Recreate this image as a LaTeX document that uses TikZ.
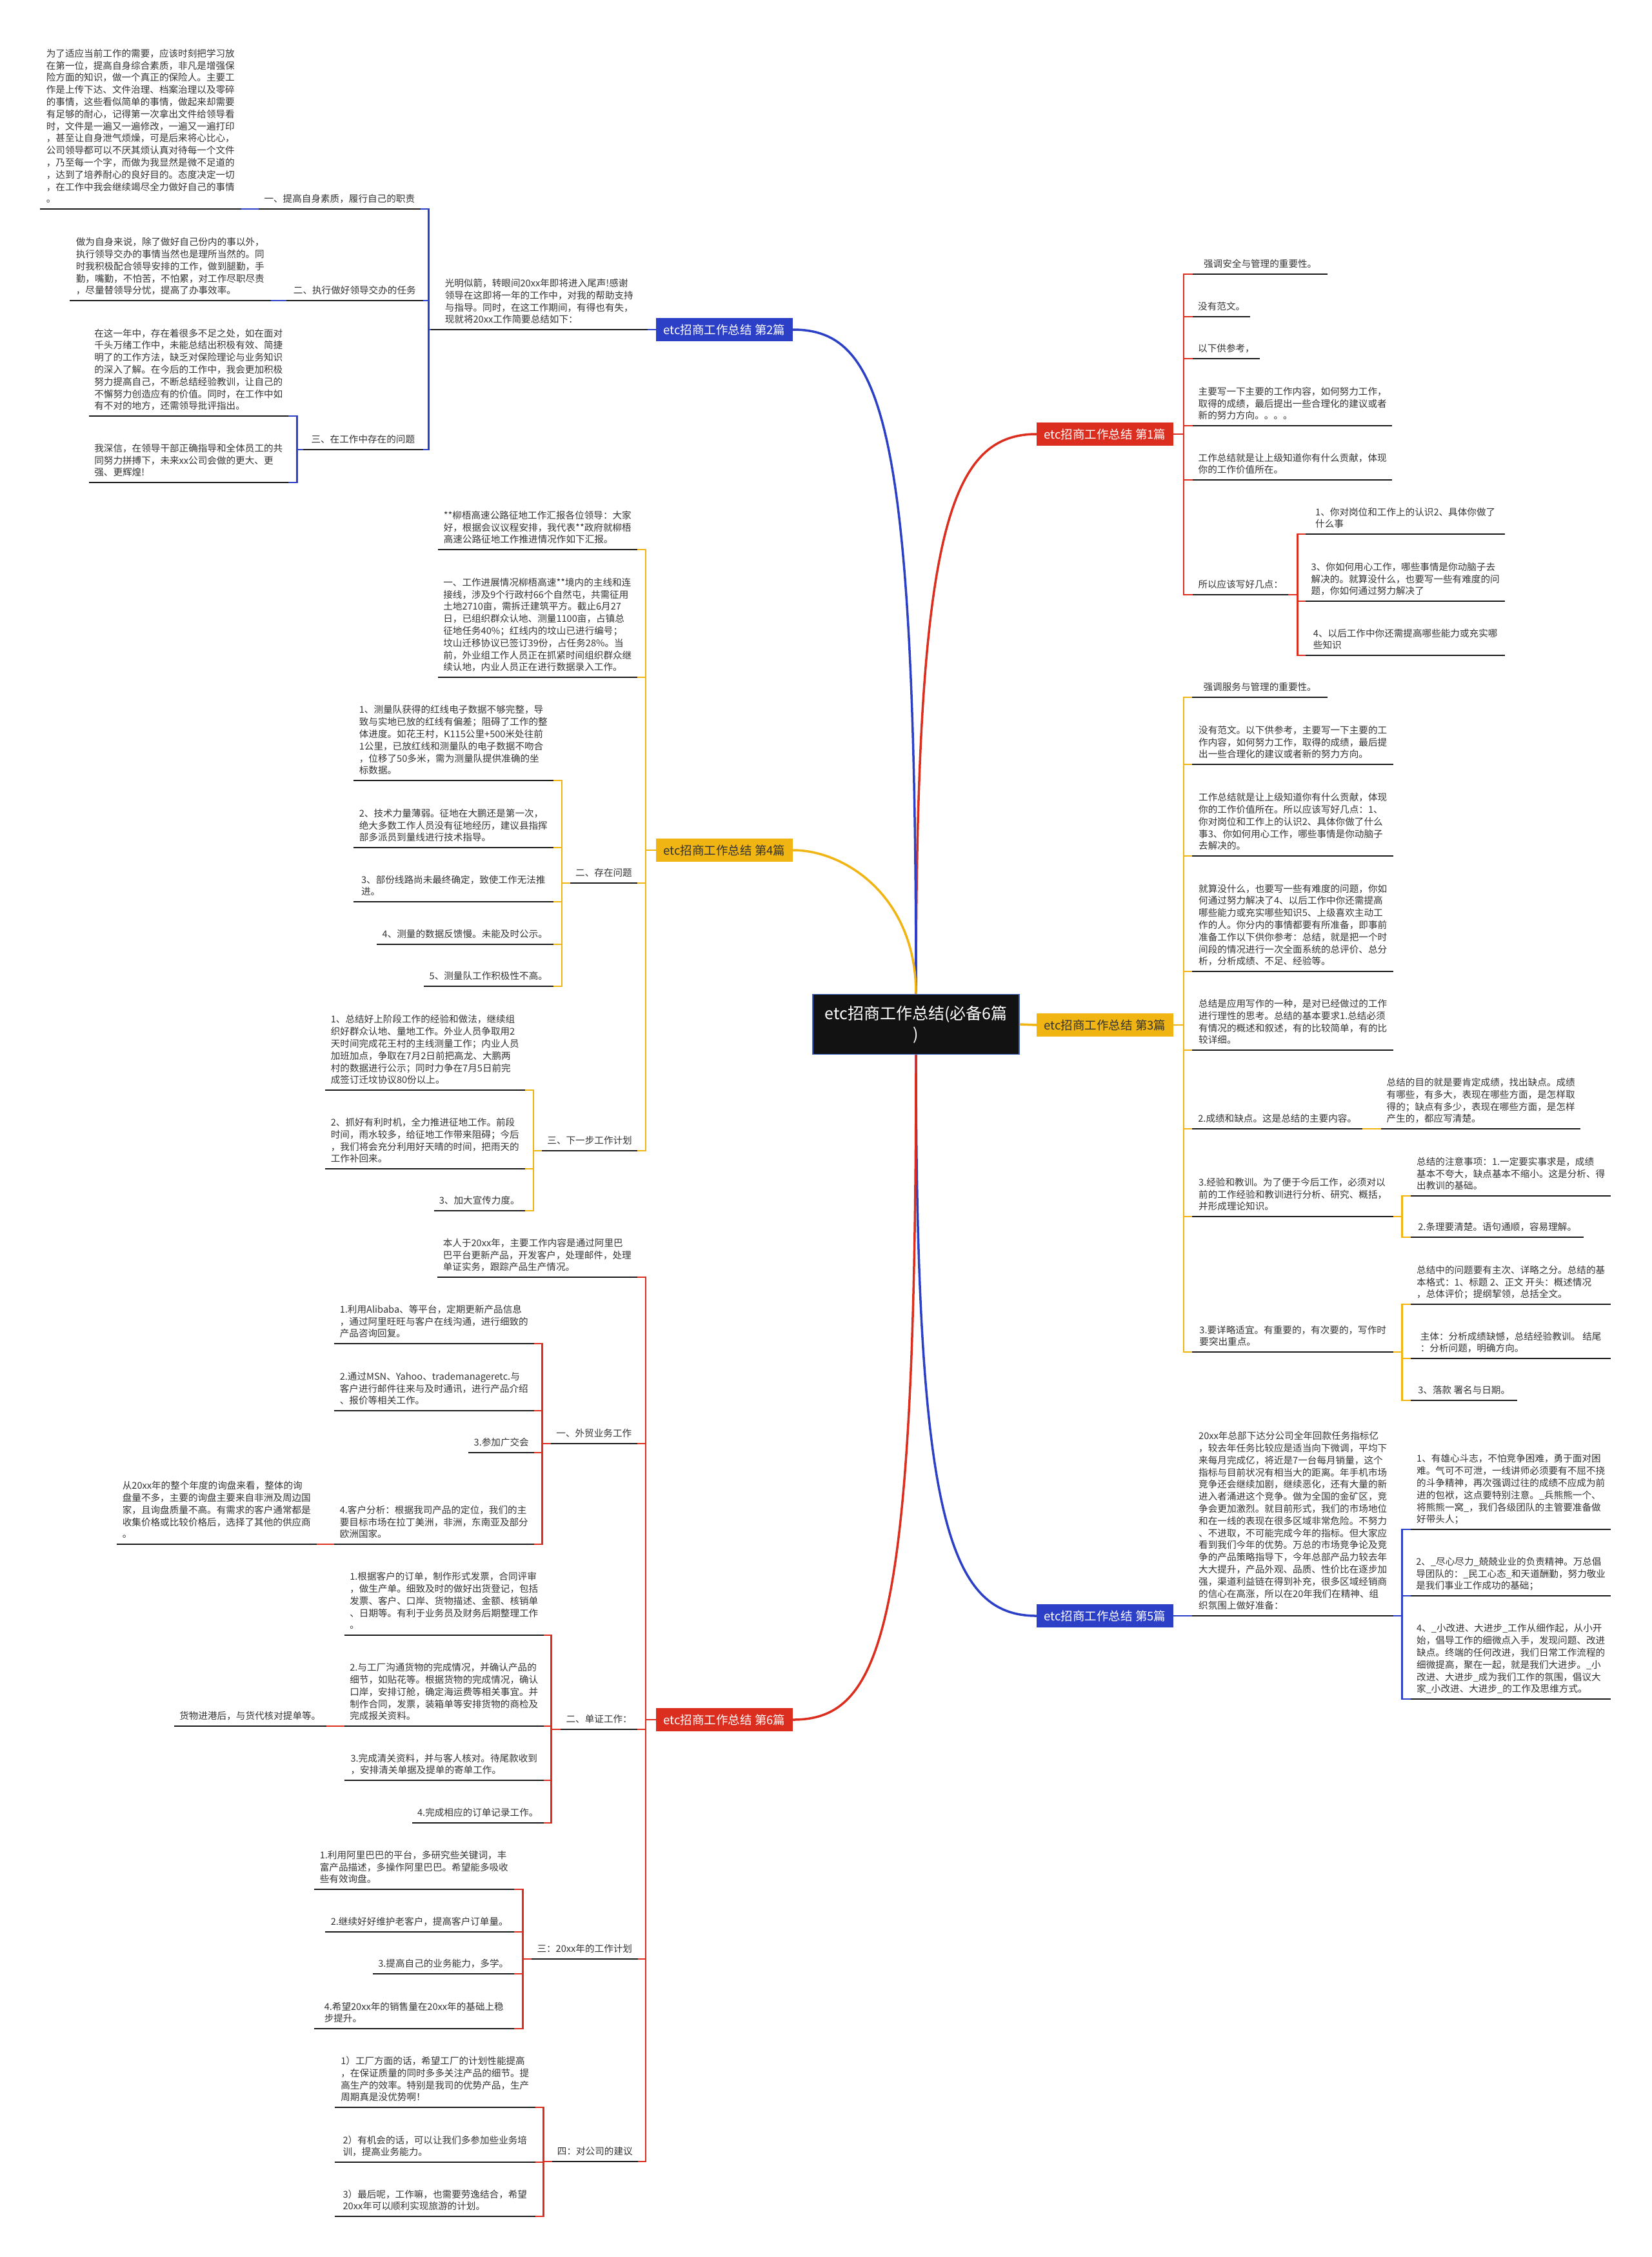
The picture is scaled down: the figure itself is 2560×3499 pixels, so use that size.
\documentclass[tikz,border=0pt]{standalone}
\usepackage{fontspec}
\setmainfont{Noto Sans CJK SC}
\definecolor{redc}{HTML}{DC2E1F}
\definecolor{bluec}{HTML}{2B3FC7}
\definecolor{yelc}{HTML}{F0B513}
\definecolor{txtc}{HTML}{333333}
\definecolor{ctrborder}{HTML}{3F62C8}
\newcommand\leaffont{\fontsize{14.6}{18.8}\selectfont}
\tikzset{
  uline/.style={draw=black!90, line width=2.5pt},
  leafR/.style={anchor=south west, align=left, inner xsep=8pt, inner ysep=8pt,
    text depth=2pt, font=\leaffont, text=txtc, minimum width=#1,
    append after command={(\tikzlastnode.south west) edge[uline] (\tikzlastnode.south east)}},
  leafL/.style={leafR=#1, anchor=south east},
  conn/.style={line width=2.5pt},
  mcurve/.style={line width=3.5pt},
  part/.style={minimum width=212pt, minimum height=36pt, inner sep=2pt,
    font=\fontsize{18.5}{22}\selectfont, text=white},
}
\begin{document}
\begin{tikzpicture}[x=1pt,y=-1pt]
\fill[white] (0,0) rectangle (2560,3499);
\useasboundingbox (0,0) rectangle (2560,3499);

% centre and parts
\node[fill=black!93, draw=ctrborder, line width=1.5pt, minimum width=320pt, minimum height=93pt,
  align=center, text=white, font=\fontsize{25}{32}\selectfont] (ctr) at (1420,1588) {etc招商工作总结(必备6篇\\)};
\node[part, fill=redc] (p1) at (1713,673) {etc招商工作总结 第1篇};
\node[part, fill=bluec] (p2) at (1123,511) {etc招商工作总结 第2篇};
\node[part, fill=yelc, text=txtc] (p3) at (1713,1589) {etc招商工作总结 第3篇};
\node[part, fill=yelc, text=txtc] (p4) at (1123,1318) {etc招商工作总结 第4篇};
\node[part, fill=bluec] (p5) at (1713,2505) {etc招商工作总结 第5篇};
\node[part, fill=redc] (p6) at (1123,2666) {etc招商工作总结 第6篇};

\draw[mcurve, redc] (ctr.north) .. controls (1420,830) and (1470,673) .. (p1.west);
\draw[mcurve, bluec] (ctr.north) .. controls (1420,660) and (1370,511) .. (p2.east);
\draw[mcurve, yelc] (ctr.east) -- (p3.west);
\draw[mcurve, yelc] (ctr.north) .. controls (1420,1390) and (1310,1318) .. (p4.east);
\draw[mcurve, bluec] (ctr.south) .. controls (1420,2350) and (1470,2505) .. (p5.west);
\draw[mcurve, redc] (ctr.south) .. controls (1420,2520) and (1370,2666) .. (p6.east);

% ---------- Part 1 ----------
\node[leafR=209] (p1a) at (1849,425) {强调安全与管理的重要性。};
\node[leafR=89] (p1b) at (1849,491) {没有范文。};
\node[leafR=103] (p1c) at (1849,556) {以下供参考，};
\node[leafR=309] (p1d) at (1849,660) {主要写一下主要的工作内容，如何努力工作，\\取得的成绩，最后提出一些合理化的建议或者\\新的努力方向。。。。};
\node[leafR=309] (p1e) at (1849,744) {工作总结就是让上级知道你有什么贡献，体现\\你的工作价值所在。};
\node[leafR=148] (p1f) at (1849,922) {所以应该写好几点：};
\node[leafR=309] (p1f1) at (2024,828) {1、你对岗位和工作上的认识2、具体你做了\\什么事};
\node[leafR=309] (p1f2) at (2024,932) {3、你如何用心工作，哪些事情是你动脑子去\\解决的。就算没什么，也要写一些有难度的问\\题，你如何通过努力解决了};
\node[leafR=309] (p1f3) at (2024,1016) {4、以后工作中你还需提高哪些能力或充实哪\\些知识};
\foreach \c in {p1a,p1b,p1c,p1d,p1e,p1f}
  \draw[conn, redc] (p1.east) -- ++(16,0) |- (\c.south west);
\foreach \c in {p1f1,p1f2,p1f3}
  \draw[conn, redc] (p1f.south east) -- ++(14,0) |- (\c.south west);

% ---------- Part 2 ----------
\node[leafL=336] (p2i) at (1004,511) {光明似箭，转眼间20xx年即将进入尾声!感谢\\领导在这即将一年的工作中，对我的帮助支持\\与指导。同时，在这工作期间，有得也有失，\\现就将20xx工作简要总结如下：};
\node[leafL=251] (p2a) at (652,324) {一、提高自身素质，履行自己的职责};
\node[leafL=312] (p2a1) at (374,324) {为了适应当前工作的需要，应该时刻把学习放\\在第一位，提高自身综合素质，非凡是增强保\\险方面的知识，做一个真正的保险人。主要工\\作是上传下达、文件治理、档案治理以及零碎\\的事情，这些看似简单的事情，做起来却需要\\有足够的耐心，记得第一次拿出文件给领导看\\时，文件是一遍又一遍修改，一遍又一遍打印\\，甚至让自身泄气烦燥，可是后来将心比心，\\公司领导都可以不厌其烦认真对待每一个文件\\，乃至每一个字，而做为我显然是微不足道的\\，达到了培养耐心的良好目的。态度决定一切\\，在工作中我会继续竭尽全力做好自己的事情\\。};
\node[leafL=212] (p2b) at (656,466) {二、执行做好领导交办的任务};
\node[leafL=312] (p2b1) at (420,466) {做为自身来说，除了做好自己份内的事以外，\\执行领导交办的事情当然也是理所当然的。同\\时我积极配合领导安排的工作，做到腿勤，手\\勤，嘴勤，不怕苦，不怕累，对工作尽职尽责\\，尽量替领导分忧，提高了办事效率。};
\node[leafL=186] (p2c) at (656,697) {三、在工作中存在的问题};
\node[leafL=309] (p2c1) at (447,645) {在这一年中，存在着很多不足之处，如在面对\\千头万绪工作中，未能总结出积极有效、简捷\\明了的工作方法，缺乏对保险理论与业务知识\\的深入了解。在今后的工作中，我会更加积极\\努力提高自己，不断总结经验教训，让自己的\\不懈努力创造应有的价值。同时，在工作中如\\有不对的地方，还需领导批评指出。};
\node[leafL=309] (p2c2) at (447,748) {我深信，在领导干部正确指导和全体员工的共\\同努力拼搏下，未来xx公司会做的更大、更\\强、更辉煌!};
\draw[conn, bluec] (p2.west) -- (p2i.south east);
\foreach \c in {p2a,p2b,p2c}
  \draw[conn, bluec] (p2i.south west) -- ++(-3,0) |- (\c.south east);
\draw[conn, bluec] (p2a.south west) -- (p2a1.south east);
\draw[conn, bluec] (p2b.south west) -- (p2b1.south east);
\foreach \c in {p2c1,p2c2}
  \draw[conn, bluec] (p2c.south west) -- ++(-9,0) |- (\c.south east);

% ---------- Part 3 ----------
\node[leafR=210] (p3a) at (1848,1081) {强调服务与管理的重要性。};
\node[leafR=312] (p3b) at (1848,1185) {没有范文。以下供参考，主要写一下主要的工\\作内容，如何努力工作，取得的成绩，最后提\\出一些合理化的建议或者新的努力方向。};
\node[leafR=312] (p3c) at (1848,1327) {工作总结就是让上级知道你有什么贡献，体现\\你的工作价值所在。所以应该写好几点：1、\\你对岗位和工作上的认识2、具体你做了什么\\事3、你如何用心工作，哪些事情是你动脑子\\去解决的。};
\node[leafR=312] (p3d) at (1848,1506) {就算没什么，也要写一些有难度的问题，你如\\何通过努力解决了4、以后工作中你还需提高\\哪些能力或充实哪些知识5、上级喜欢主动工\\作的人。你分内的事情都要有所准备，即事前\\准备工作以下供你参考：总结，就是把一个时\\间段的情况进行一次全面系统的总评价、总分\\析，分析成绩、不足、经验等。};
\node[leafR=312] (p3e) at (1848,1628) {总结是应用写作的一种，是对已经做过的工作\\进行理性的思考。总结的基本要求1.总结必须\\有情况的概述和叙述，有的比较简单，有的比\\较详细。};
\node[leafR=264] (p3f) at (1848,1750) {2.成绩和缺点。这是总结的主要内容。};
\node[leafR=309] (p3f1) at (2141,1750) {总结的目的就是要肯定成绩，找出缺点。成绩\\有哪些，有多大，表现在哪些方面，是怎样取\\得的；缺点有多少，表现在哪些方面，是怎样\\产生的，都应写清楚。};
\node[leafR=312] (p3g) at (1848,1886) {3.经验和教训。为了便于今后工作，必须对以\\前的工作经验和教训进行分析、研究、概括，\\并形成理论知识。};
\node[leafR=310] (p3g1) at (2187,1854) {总结的注意事项：1.一定要实事求是，成绩\\基本不夸大，缺点基本不缩小。这是分析、得\\出教训的基础。};
\node[leafR=268] (p3g2) at (2187,1918) {2.条理要清楚。语句通顺，容易理解。};
\node[leafR=312] (p3h) at (1848,2096) {3.要详略适宜。有重要的，有次要的，写作时\\要突出重点。};
\node[leafR=310] (p3h1) at (2187,2022) {总结中的问题要有主次、详略之分。总结的基\\本格式：1、标题 2、正文 开头：概述情况\\，总体评价；提纲挈领，总括全文。};
\node[leafR=310] (p3h2) at (2187,2106) {主体：分析成绩缺憾，总结经验教训。 结尾\\：分析问题，明确方向。};
\node[leafR=165] (p3h3) at (2187,2171) {3、落款 署名与日期。};
\foreach \c in {p3a,p3b,p3c,p3d,p3e,p3f,p3g,p3h}
  \draw[conn, yelc] (p3.east) -- ++(16,0) |- (\c.south west);
\draw[conn, yelc] (p3f.south east) -- (p3f1.south west);
\foreach \c in {p3g1,p3g2}
  \draw[conn, yelc] (p3g.south east) -- ++(13,0) |- (\c.south west);
\foreach \c in {p3h1,p3h2,p3h3}
  \draw[conn, yelc] (p3h.south east) -- ++(13,0) |- (\c.south west);

% ---------- Part 4 ----------
\node[leafL=309] (p4a) at (988,852) {**柳梧高速公路征地工作汇报各位领导：大家\\好，根据会议议程安排，我代表**政府就柳梧\\高速公路征地工作推进情况作如下汇报。};
\node[leafL=309] (p4b) at (988,1050) {一、工作进展情况柳梧高速**境内的主线和连\\接线，涉及9个行政村66个自然屯，共需征用\\土地2710亩，需拆迁建筑平方。截止6月27\\日，已组织群众认地、测量1100亩，占镇总\\征地任务40\%；红线内的坟山已进行编号；\\坟山迁移协议已签订39份，占任务28\%。当\\前，外业组工作人员正在抓紧时间组织群众继\\续认地，内业人员正在进行数据录入工作。};
\node[leafL=103] (p4c) at (988,1369) {二、存在问题};
\node[leafL=310] (p4c1) at (858,1210) {1、测量队获得的红线电子数据不够完整，导\\致与实地已放的红线有偏差；阻碍了工作的整\\体进度。如花王村，K115公里+500米处往前\\1公里，已放红线和测量队的电子数据不吻合\\，位移了50多米，需为测量队提供准确的坐\\标数据。};
\node[leafL=310] (p4c2) at (858,1314) {2、技术力量薄弱。征地在大鹏还是第一次，\\绝大多数工作人员没有征地经历，建议县指挥\\部多派员到量线进行技术指导。};
\node[leafL=310] (p4c3) at (858,1398) {3、部份线路尚未最终确定，致使工作无法推\\进。};
\node[leafL=274] (p4c4) at (858,1464) {4、测量的数据反馈慢。未能及时公示。};
\node[leafL=201] (p4c5) at (858,1529) {5、测量队工作积极性不高。};
\node[leafL=147] (p4d) at (988,1784) {三、下一步工作计划};
\node[leafL=310] (p4d1) at (814,1690) {1、总结好上阶段工作的经验和做法，继续组\\织好群众认地、量地工作。外业人员争取用2\\天时间完成花王村的主线测量工作；内业人员\\加班加点，争取在7月2日前把高龙、大鹏两\\村的数据进行公示；同时力争在7月5日前完\\成签订迁坟协议80份以上。};
\node[leafL=310] (p4d2) at (814,1812) {2、抓好有利时机，全力推进征地工作。前段\\时间，雨水较多，给征地工作带来阻碍；今后\\，我们将会充分利用好天晴的时间，把雨天的\\工作补回来。};
\node[leafL=141] (p4d3) at (814,1877) {3、加大宣传力度。};
\foreach \c in {p4a,p4b,p4c,p4d}
  \draw[conn, yelc] (p4.west) -- ++(-16,0) |- (\c.south east);
\foreach \c in {p4c1,p4c2,p4c3,p4c4,p4c5}
  \draw[conn, yelc] (p4c.south west) -- ++(-13,0) |- (\c.south east);
\foreach \c in {p4d1,p4d2,p4d3}
  \draw[conn, yelc] (p4d.south west) -- ++(-13,0) |- (\c.south east);

% ---------- Part 5 ----------
\node[leafR=312] (p5a) at (1848,2505) {20xx年总部下达分公司全年回款任务指标亿\\，较去年任务比较应是适当向下微调，平均下\\来每月完成亿，将近是7一台每月销量，这个\\指标与目前状况有相当大的距离。年手机市场\\竞争还会继续加剧，继续恶化，还有大量的新\\进入者涌进这个竞争。做为全国的金矿区，竞\\争会更加激烈。就目前形式，我们的市场地位\\和在一线的表现在很多区域非常危险。不努力\\、不进取，不可能完成今年的指标。但大家应\\看到我们今年的优势。万总的市场竞争论及竞\\争的产品策略指导下，今年总部产品力较去年\\大大提升，产品外观、品质、性价比在逐步加\\强，渠道利益链在得到补充，很多区域经销商\\的信心在高涨，所以在20年我们在精神、组\\织氛围上做好准备：};
\node[leafR=310] (p5a1) at (2187,2371) {1、有雄心斗志，不怕竞争困难，勇于面对困\\难。气可不可泄，一线讲师必须要有不屈不挠\\的斗争精神，再次强调过往的成绩不应成为前\\进的包袱，这点要特别注意。\_兵熊熊一个、\\将熊熊一窝\_，我们各级团队的主管要准备做\\好带头人；};
\node[leafR=310] (p5a2) at (2187,2474) {2、\_尽心尽力\_兢兢业业的负责精神。万总倡\\导团队的：\_民工心态\_和天道酬勤，努力敬业\\是我们事业工作成功的基础；};
\node[leafR=310] (p5a3) at (2187,2634) {4、\_小改进、大进步\_工作从细作起，从小开\\始，倡导工作的细微点入手，发现问题、改进\\缺点。终端的任何改进，我们日常工作流程的\\细微提高，聚在一起，就是我们大进步。\_小\\改进、大进步\_成为我们工作的氛围，倡议大\\家\_小改进、大进步\_的工作及思维方式。};
\draw[conn, bluec] (p5.east) -- (p5a.south west);
\foreach \c in {p5a1,p5a2,p5a3}
  \draw[conn, bluec] (p5a.south east) -- ++(13,0) |- (\c.south west);

% ---------- Part 6 ----------
\node[leafL=310] (p6a) at (988,1980) {本人于20xx年，主要工作内容是通过阿里巴\\巴平台更新产品，开发客户，处理邮件，处理\\单证实务，跟踪产品生产情况。};
\node[leafL=134] (p6b) at (988,2238) {一、外贸业务工作};
\node[leafL=310] (p6b1) at (828,2083) {1.利用Alibaba、等平台，定期更新产品信息\\，通过阿里旺旺与客户在线沟通，进行细致的\\产品咨询回复。};
\node[leafL=310] (p6b2) at (828,2187) {2.通过MSN、Yahoo、trademanageretc.与\\客户进行邮件往来与及时通讯，进行产品介绍\\、报价等相关工作。};
\node[leafL=101] (p6b3) at (828,2252) {3.参加广交会};
\node[leafL=310] (p6b4) at (828,2394) {4.客户分析：根据我司产品的定位，我们的主\\要目标市场在拉丁美洲，非洲，东南亚及部分\\欧洲国家。};
\node[leafL=310] (p6b4a) at (491,2394) {从20xx年的整个年度的询盘来看，整体的询\\盘量不多，主要的询盘主要来自非洲及周边国\\家，且询盘质量不高。有需求的客户通常都是\\收集价格或比较价格后，选择了其他的供应商\\。};
\node[leafL=117] (p6c) at (988,2681) {二、单证工作：};
\node[leafL=309] (p6c1) at (843,2535) {1.根据客户的订单，制作形式发票，合同评审\\，做生产单。细致及时的做好出货登记，包括\\发票、客户、口岸、货物描述、金额、核销单\\、日期等。有利于业务员及财务后期整理工作\\。};
\node[leafL=309] (p6c2) at (843,2676) {2.与工厂沟通货物的完成情况，并确认产品的\\细节，如贴花等。根据货物的完成情况，确认\\口岸，安排订舱，确定海运费等相关事宜。并\\制作合同，发票，装箱单等安排货物的商检及\\完成报关资料。};
\node[leafL=236] (p6c2a) at (506,2676) {货物进港后，与货代核对提单等。};
\node[leafL=309] (p6c3) at (843,2760) {3.完成清关资料，并与客人核对。待尾款收到\\，安排清关单据及提单的寄单工作。};
\node[leafL=204] (p6c4) at (843,2826) {4.完成相应的订单记录工作。};
\node[leafL=165] (p6d) at (989,3037) {三：20xx年的工作计划};
\node[leafL=310] (p6d1) at (797,2929) {1.利用阿里巴巴的平台，多研究些关键词，丰\\富产品描述，多操作阿里巴巴。希望能多吸收\\些有效询盘。};
\node[leafL=293] (p6d2) at (797,2995) {2.继续好好维护老客户，提高客户订单量。};
\node[leafL=219] (p6d3) at (797,3060) {3.提高自己的业务能力，多学。};
\node[leafL=310] (p6d4) at (797,3145) {4.希望20xx年的销售量在20xx年的基础上稳\\步提升。};
\node[leafL=133] (p6e) at (989,3351) {四：对公司的建议};
\node[leafL=311] (p6e1) at (830,3267) {1）工厂方面的话，希望工厂的计划性能提高\\，在保证质量的同时多多关注产品的细节。提\\高生产的效率。特别是我司的优势产品，生产\\周期真是没优势啊！};
\node[leafL=311] (p6e2) at (830,3352) {2）有机会的话，可以让我们多参加些业务培\\训，提高业务能力。};
\node[leafL=311] (p6e3) at (830,3436) {3）最后呢，工作嘛，也需要劳逸结合，希望\\20xx年可以顺利实现旅游的计划。};
\foreach \c in {p6a,p6b,p6c,p6d,p6e}
  \draw[conn, redc] (p6.west) -- ++(-16,0) |- (\c.south east);
\foreach \c in {p6b1,p6b2,p6b3,p6b4}
  \draw[conn, redc] (p6b.south west) -- ++(-13,0) |- (\c.south east);
\draw[conn, redc] (p6b4.south west) -- (p6b4a.south east);
\foreach \c in {p6c1,p6c2,p6c3,p6c4}
  \draw[conn, redc] (p6c.south west) -- ++(-15,0) |- (\c.south east);
\draw[conn, redc] (p6c2.south west) -- (p6c2a.south east);
\foreach \c in {p6d1,p6d2,p6d3,p6d4}
  \draw[conn, redc] (p6d.south west) -- ++(-13,0) |- (\c.south east);
\foreach \c in {p6e1,p6e2,p6e3}
  \draw[conn, redc] (p6e.south west) -- ++(-13,0) |- (\c.south east);
\end{tikzpicture}
\end{document}
